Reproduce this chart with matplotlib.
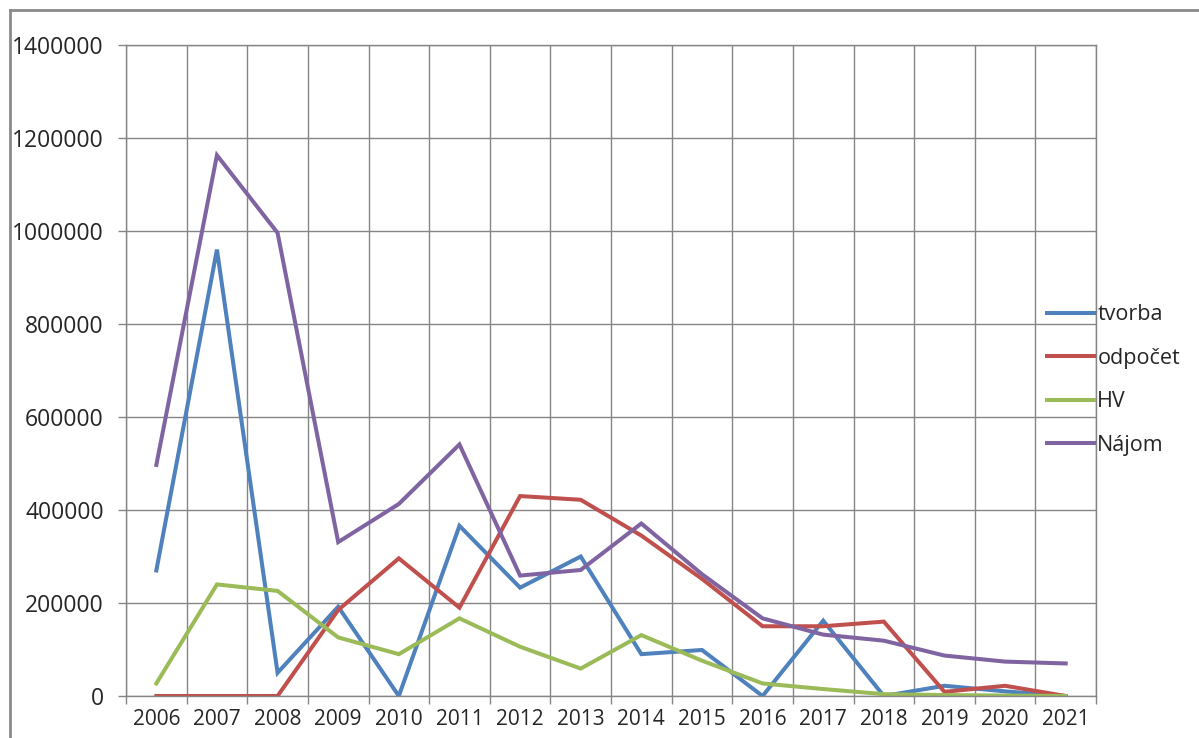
import numpy as np
import matplotlib.pyplot as plt
from matplotlib.lines import Line2D

plt.rcParams['font.family'] = ['Open Sans', 'DejaVu Sans']

roky = ['2006', '2007', '2008', '2009', '2010', '2011', '2012', '2013',
        '2014', '2015', '2016', '2017', '2018', '2019', '2020', '2021']
tvorba = [270000, 960000, 50000, 192000, 0, 366000, 233000, 300000,
          90000, 99000, 0, 162000, 0, 22000, 10000, 0]
odpocet = [0, 0, 0, 185000, 296000, 190000, 430000, 422000,
           345000, 252000, 150000, 150000, 160000, 9000, 22000, 0]
hv = [27000, 240000, 226000, 126000, 90000, 167000, 106000, 59000,
      131000, 76000, 27000, 15000, 4000, 2000, 1000, 0]
najom = [497000, 1163000, 996000, 331000, 413000, 541000, 259000, 271000,
         371000, 262000, 167000, 132000, 119000, 87000, 74000, 70000]

serie = ['tvorba', 'odpočet', 'HV', 'Nájom']
farby = ['#4F81BD', '#C0504D', '#9BBB59', '#8064A2']

fig = plt.figure(figsize=(11.99, 7.38), dpi=100)
ax = fig.add_axes([0.1051, 0.0569, 0.809, 0.8821])

x = np.arange(len(roky))
for hodnoty, meno, farba in zip([tvorba, odpocet, hv, najom], serie, farby):
    ax.plot(x, hodnoty, color=farba, lw=2.9, label=meno, solid_joinstyle='miter')

ax.set_xlim(-0.5, len(roky) - 0.5)
ax.set_ylim(0, 1400000)
ax.set_yticks(np.arange(0, 1400001, 200000))
ax.set_yticklabels([str(v) for v in range(0, 1400001, 200000)])
ax.set_xticks(x)
ax.set_xticklabels(roky)
ax.set_xticks(np.arange(-0.5, len(roky), 1), minor=True)

sivá = '#858585'
ax.grid(True, which='minor', axis='x', color=sivá, lw=1)
ax.grid(True, which='major', axis='y', color=sivá, lw=1)
ax.set_axisbelow(True)
for s in ax.spines.values():
    s.set_color(sivá)
    s.set_linewidth(1)

text = '#262626'
ax.tick_params(axis='x', which='major', length=0, pad=9, labelsize=15, labelcolor=text)
ax.tick_params(axis='x', which='minor', length=6, color=sivá, width=1)
ax.tick_params(axis='y', length=6, color=sivá, width=1, pad=10, labelsize=16.5, labelcolor=text)

ax.legend(loc='center left', bbox_to_anchor=(0.864, 0.485), bbox_transform=fig.transFigure,
          frameon=False, fontsize=15.5, handlelength=2.2, handletextpad=0.15,
          labelspacing=1.05, borderpad=0, labelcolor=text)

# ram okolo obrazku
fig.add_artist(Line2D([0.008, 0.008], [0, 0.987], color='#8a8a8a', lw=2, transform=fig.transFigure))
fig.add_artist(Line2D([0.008, 1], [0.987, 0.987], color='#8a8a8a', lw=2, transform=fig.transFigure))

fig.savefig('out.png', dpi=100)
